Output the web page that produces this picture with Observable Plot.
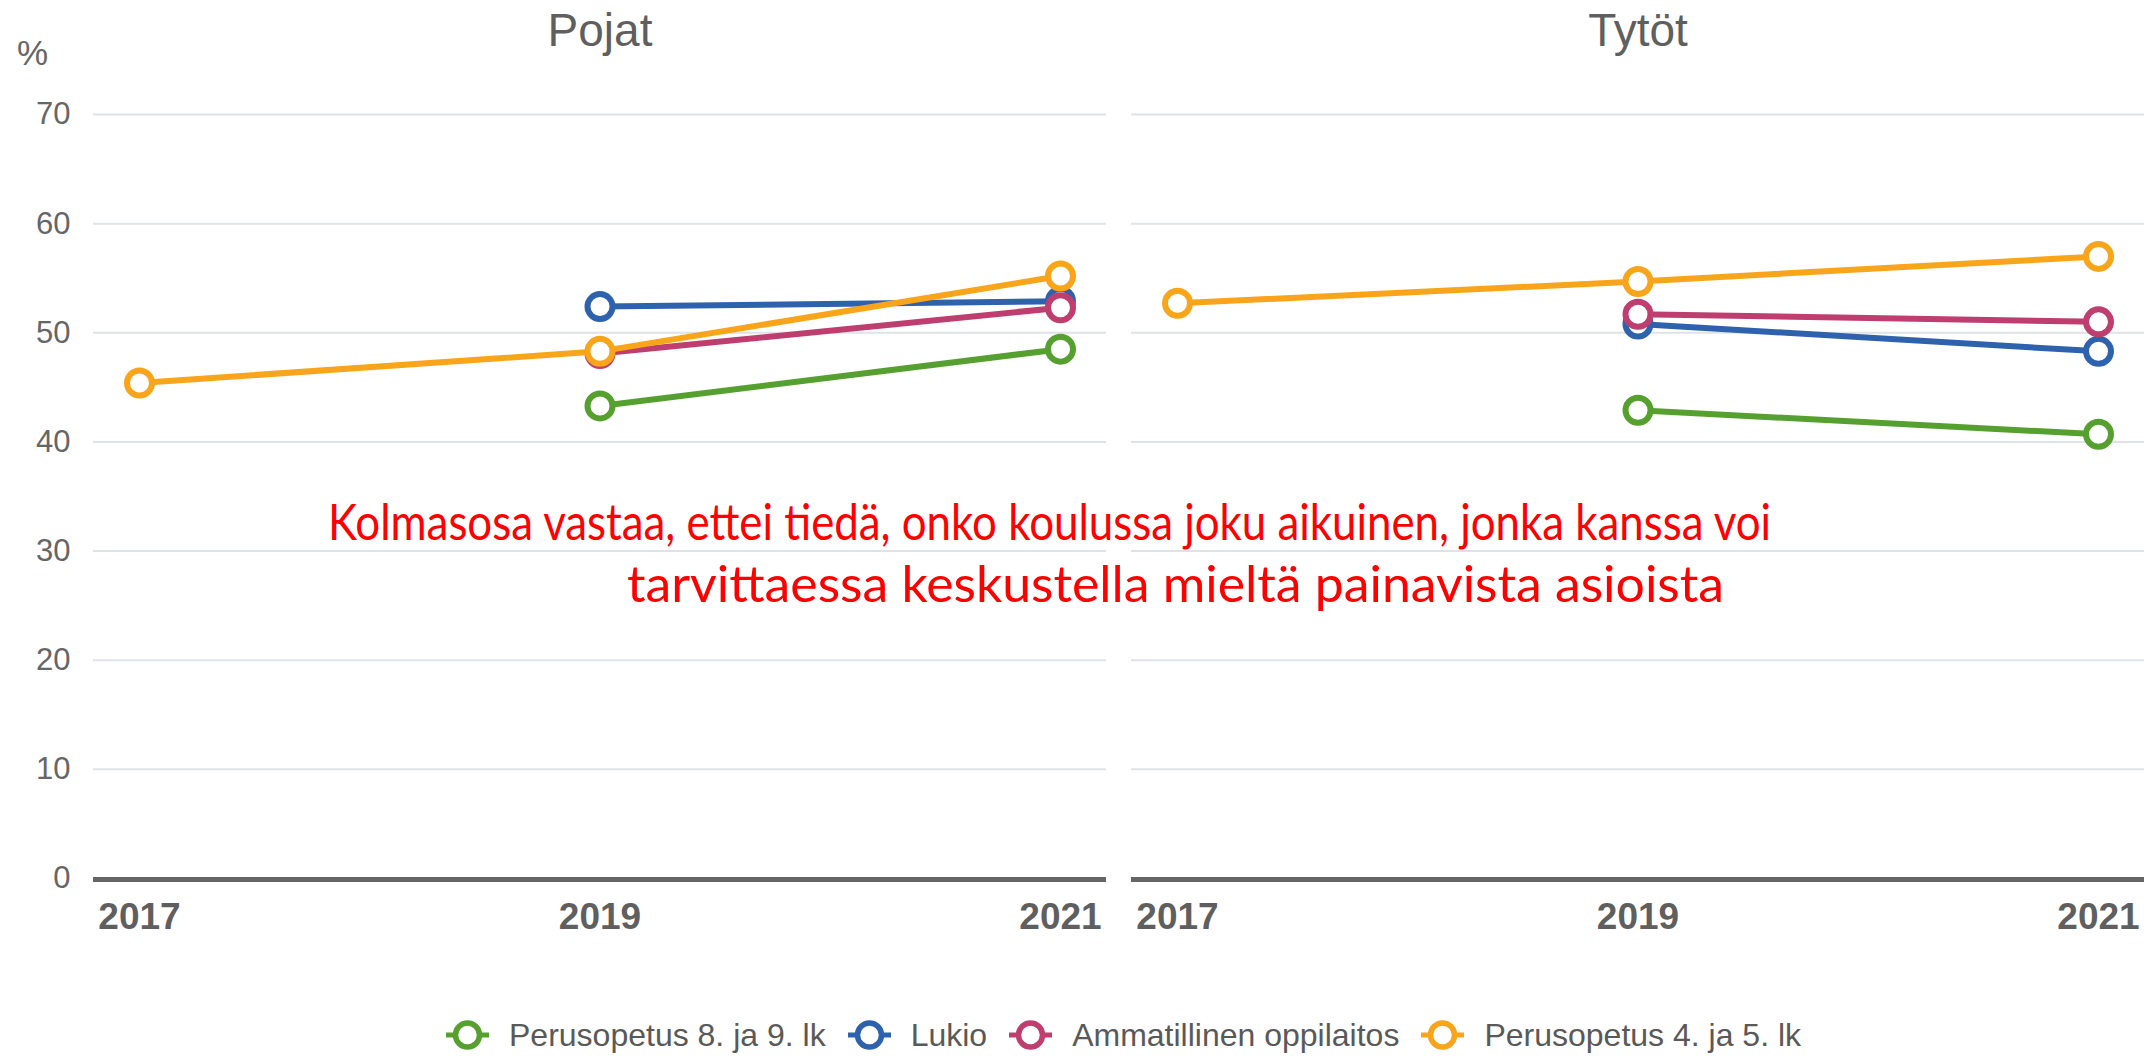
<!DOCTYPE html>
<html><head><meta charset="utf-8">
<script src="https://cdn.jsdelivr.net/npm/d3@7"></script>
<script src="https://cdn.jsdelivr.net/npm/@observablehq/plot@0.6"></script>
<style>
html,body{margin:0;padding:0;background:#fff;}
#wrap{position:relative;width:2153px;height:1057px;overflow:hidden;font-family:"Liberation Sans",Arial,sans-serif;background:#fff;}
#chart{position:absolute;left:0;top:0;}
#overlay{position:absolute;left:0;top:0;pointer-events:none;}
#legend{position:absolute;left:446px;top:1015px;height:40px;display:flex;align-items:center;font-size:32px;color:#595959;white-space:nowrap;}
.item{display:flex;align-items:center;margin-right:22px;}
.item svg{margin-right:20px;display:block;}
</style></head><body>
<div id="wrap"><div id="chart"></div><svg id="overlay" width="2153" height="1057"></svg><div id="legend"></div></div>
<script>
// ---- data ----
const panels = ["Pojat", "Tytöt"];
const years = [2017, 2019, 2021];
const yTicks = [0, 10, 20, 30, 40, 50, 60, 70];
const seriesNames = ["Perusopetus 8. ja 9. lk", "Lukio", "Ammatillinen oppilaitos", "Perusopetus 4. ja 5. lk"];
const seriesColors = ["#56a030", "#2f62ad", "#be3f6f", "#f9a51b"];

// values per year [2017, 2019, 2021]
const pojatPerus89 = [null, 43.3, 48.5];
const pojatLukio = [null, 52.4, 52.9];
const pojatAmmatillinen = [null, 48.1, 52.3];
const pojatPerus45 = [45.4, 48.3, 55.2];

const tytotPerus89 = [null, 42.9, 40.7];
const tytotLukio = [null, 50.8, 48.3];
const tytotAmmatillinen = [null, 51.7, 51.0];
const tytotPerus45 = [52.7, 54.7, 57.0];

const titleLine1 = "Kolmasosa vastaa, ettei tiedä, onko koulussa joku aikuinen, jonka kanssa voi";
const titleLine2 = "tarvittaessa keskustella mieltä painavista asioista";
const yUnit = "%";

// ---- build table ----
const byPanel = {
  "Pojat": [pojatPerus89, pojatLukio, pojatAmmatillinen, pojatPerus45],
  "Tytöt": [tytotPerus89, tytotLukio, tytotAmmatillinen, tytotPerus45]
};
const rows = [];
for (const p of panels) {
  byPanel[p].forEach((vals, si) => {
    vals.forEach((v, yi) => {
      if (v != null) rows.push({panel: p, series: seriesNames[si], year: years[yi], value: v});
    });
  });
}

const seriesMarks = seriesNames.flatMap(name => {
  const d = rows.filter(r => r.series === name);
  return [
    Plot.line(d, {fx: "panel", x: "year", y: "value", z: "panel", stroke: "series", strokeWidth: 6, strokeLinejoin: "round", strokeLinecap: "round"}),
    Plot.dot(d, {fx: "panel", x: "year", y: "value", stroke: "series", fill: "white", r: 12.5, strokeWidth: 6})
  ];
});

const chart = Plot.plot({
  width: 2153,
  height: 970,
  marginTop: 114,
  marginBottom: 92,
  marginLeft: 93,
  marginRight: 9,
  style: {fontFamily: "'Liberation Sans', Arial, sans-serif", background: "white", overflow: "visible"},
  fx: {domain: panels, paddingInner: 0.0241, paddingOuter: 0},
  x: {domain: [2017, 2021], insetLeft: 46, insetRight: 46},
  y: {domain: [0, 70]},
  color: {domain: seriesNames, range: seriesColors},
  marks: [
    Plot.gridY(yTicks.filter(t => t > 0), {stroke: "#dfe2e6", strokeOpacity: 1, strokeWidth: 2}),
    Plot.ruleY([0], {stroke: "#666666", strokeWidth: 5, dy: 1}),
    Plot.axisFx({anchor: "top", tickSize: 0, tickPadding: 69, fontSize: 46, label: null, color: "#5f5f5f"}),
    Plot.axisY(yTicks, {tickSize: 0, tickPadding: 23, fontSize: 31, label: null, color: "#666666"}),
    Plot.axisX(years, {tickSize: 0, tickPadding: 24, fontSize: 37, fontWeight: "bold", label: null, color: "#5f5f5f", tickFormat: d => String(d)}),
    ...seriesMarks
  ]
});
document.getElementById("chart").appendChild(chart);

// ---- overlay texts ----
const ov = d3.select("#overlay");
ov.append("text").attr("x", 17).attr("y", 65).attr("font-family", "'Liberation Sans', Arial, sans-serif")
  .attr("font-size", 35).attr("fill", "#666666").text(yUnit);
ov.append("text").attr("x", 1049.5).attr("y", 540).attr("text-anchor", "middle")
  .attr("font-family", "Lato, 'Open Sans', sans-serif").attr("font-size", 51).attr("fill", "#ff0000")
  .attr("textLength", 1443).attr("lengthAdjust", "spacingAndGlyphs").text(titleLine1);
ov.append("text").attr("x", 1175.5).attr("y", 602).attr("text-anchor", "middle")
  .attr("font-family", "Lato, 'Open Sans', sans-serif").attr("font-size", 51).attr("fill", "#ff0000")
  .attr("textLength", 1097).attr("lengthAdjust", "spacingAndGlyphs").text(titleLine2);

// ---- legend ----
const legend = d3.select("#legend");
seriesNames.forEach((name, i) => {
  const item = legend.append("div").attr("class", "item");
  const s = item.append("svg").attr("width", 43).attr("height", 32);
  s.append("line").attr("x1", 0).attr("x2", 43).attr("y1", 16).attr("y2", 16)
    .attr("stroke", seriesColors[i]).attr("stroke-width", 5);
  s.append("circle").attr("cx", 21.5).attr("cy", 16).attr("r", 12)
    .attr("fill", "white").attr("stroke", seriesColors[i]).attr("stroke-width", 5.5);
  item.append("span").text(name);
});
</script>
</body></html>
